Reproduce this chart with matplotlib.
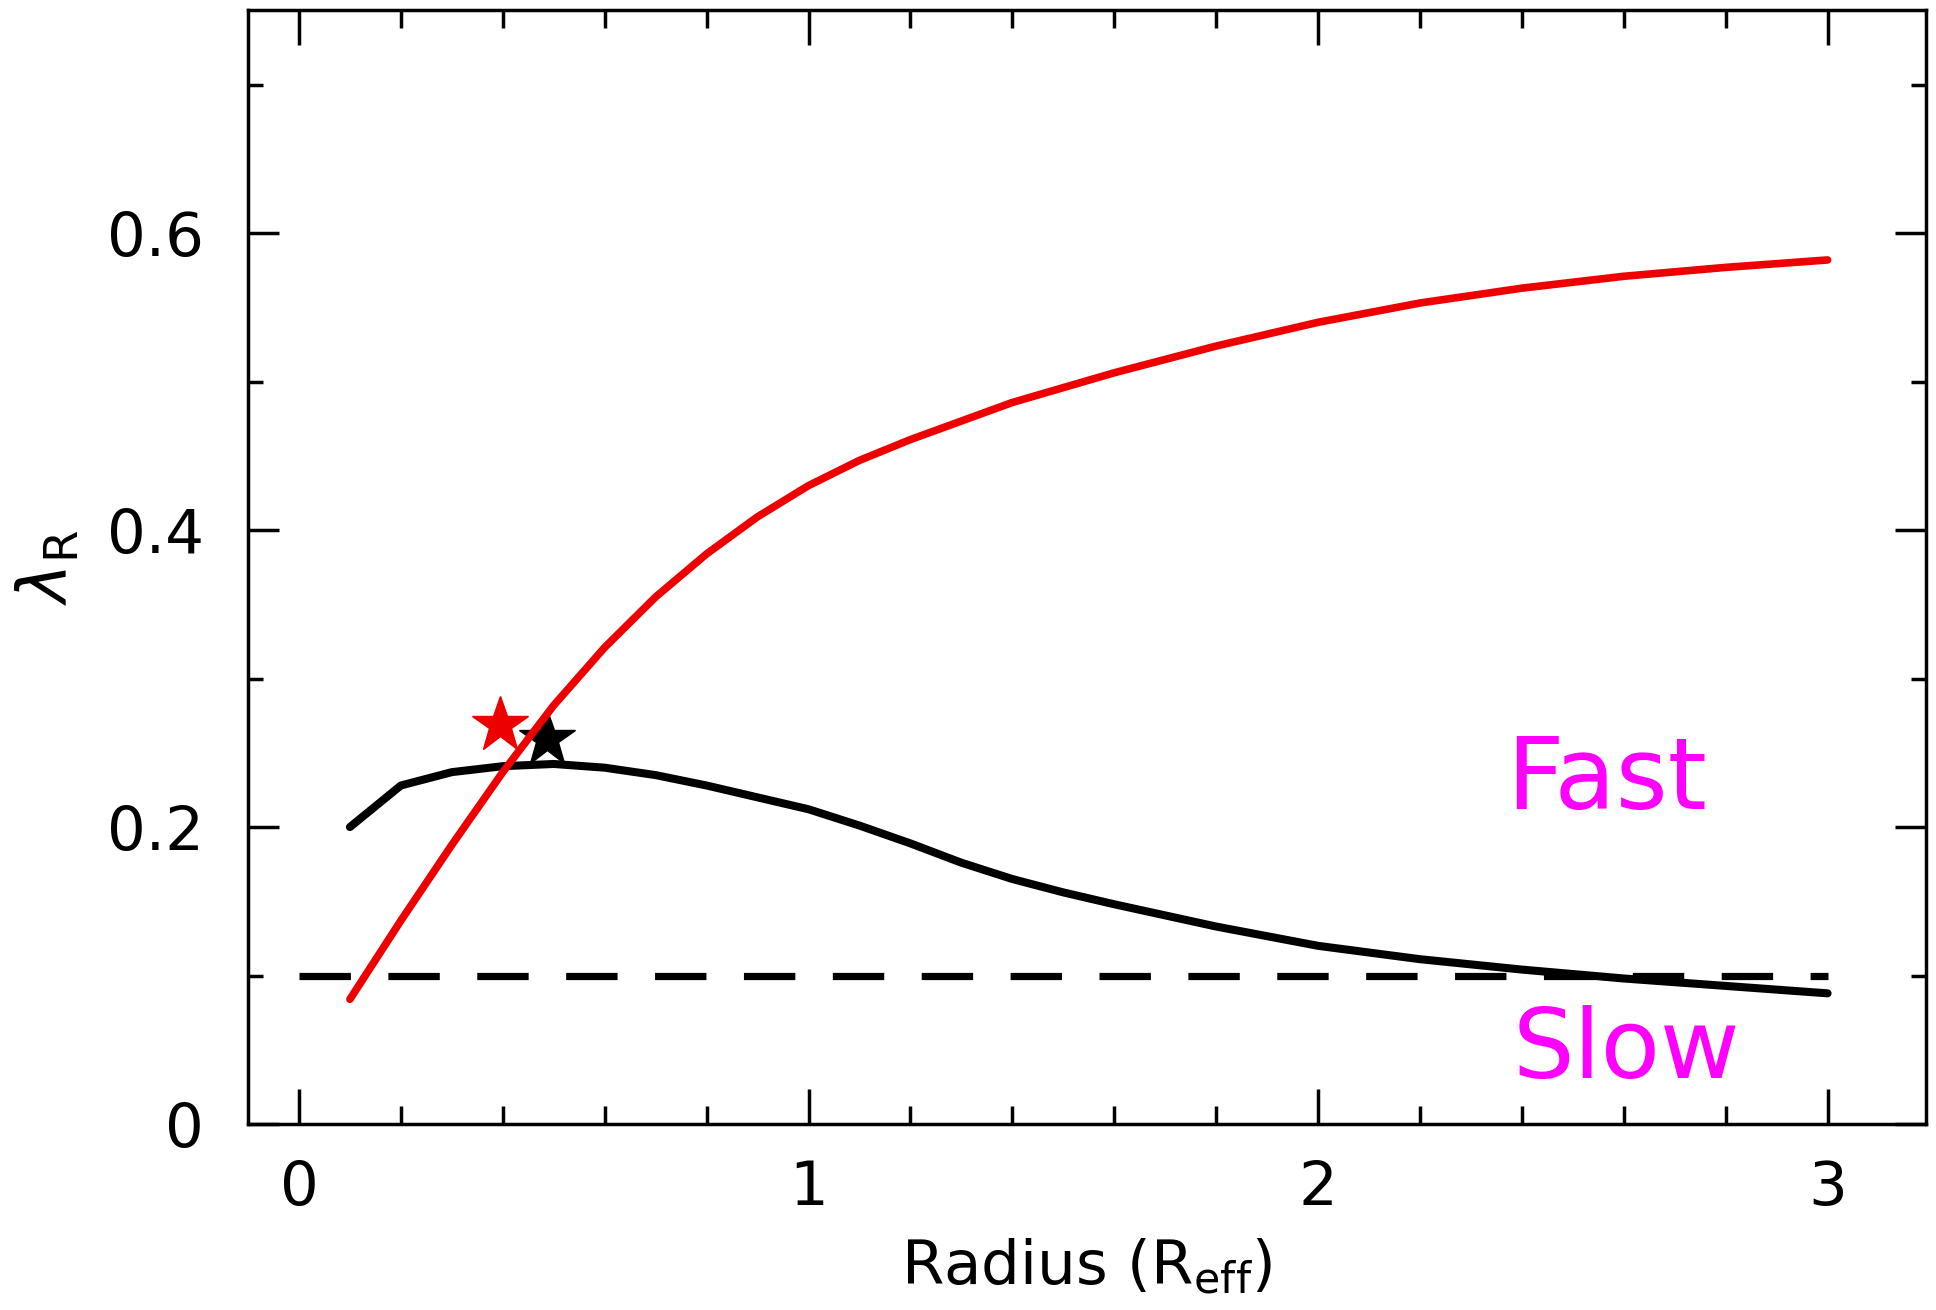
import matplotlib
matplotlib.use("Agg")
import matplotlib.pyplot as plt
from matplotlib.ticker import MultipleLocator

# lambda_R profiles
x_red = [0.1, 0.2, 0.3, 0.4, 0.5, 0.6, 0.7, 0.8, 0.9, 1.0, 1.1, 1.2, 1.4, 1.6,
         1.8, 2.0, 2.2, 2.4, 2.6, 2.8, 3.0]
y_red = [0.084, 0.137, 0.188, 0.237, 0.282, 0.321, 0.355, 0.384, 0.409, 0.430,
         0.447, 0.461, 0.486, 0.506, 0.524, 0.540, 0.553, 0.563, 0.571, 0.577, 0.582]

x_black = [0.1, 0.2, 0.3, 0.4, 0.5, 0.6, 0.7, 0.8, 0.9, 1.0, 1.1, 1.2, 1.3, 1.4,
           1.5, 1.6, 1.8, 2.0, 2.2, 2.4, 2.6, 2.8, 3.0]
y_black = [0.200, 0.228, 0.237, 0.241, 0.2425, 0.240, 0.235, 0.228, 0.220, 0.212,
           0.201, 0.189, 0.176, 0.165, 0.156, 0.148, 0.133, 0.120, 0.111, 0.104,
           0.098, 0.093, 0.088]

# star markers
star_red = (0.3945, 0.2686)
star_black = (0.486, 0.2596)

# fast / slow dividing line
threshold = 0.1
thr_x = [0.0, 3.0]

xticks = [0, 1, 2, 3]
xtick_labels = ['0', '1', '2', '3']
yticks = [0, 0.2, 0.4, 0.6]
ytick_labels = ['0', '0.2', '0.4', '0.6']

plt.rcParams['font.family'] = ['DejaVu Sans']
plt.rcParams['mathtext.fontset'] = 'dejavusans'

fig = plt.figure(figsize=(19.36, 13.10), dpi=100)
ax = fig.add_axes([0.1281, 0.1420, 0.8667, 0.8504])

# stars first so the curves sit on top
ax.plot(*star_red, marker='*', color='#ee0000', markersize=42, linestyle='none', zorder=2)
ax.plot(*star_black, marker='*', color='black', markersize=42, linestyle='none', zorder=2)

ax.plot(x_black, y_black, color='black', linewidth=5.8, solid_capstyle='round',
        solid_joinstyle='round', zorder=3)
ax.plot(x_red, y_red, color='#ee0000', linewidth=5.5, solid_capstyle='round',
        solid_joinstyle='round', zorder=4)

dash, = ax.plot(thr_x, [threshold, threshold], color='black', linewidth=5.2, zorder=3)
dash.set_dashes((37 / 5.2, 27 / 5.2))

ax.text(2.567, 0.212, 'Fast', color='#ff00ff', fontsize=72, ha='center', va='baseline')
ax.text(2.606, 0.031, 'Slow', color='#ff00ff', fontsize=70, ha='center', va='baseline')

ax.set_xlim(-0.1, 3.193)
ax.set_ylim(0, 0.7504)

ax.set_xticks(xticks)
ax.set_xticklabels(xtick_labels)
ax.set_yticks(yticks)
ax.set_yticklabels(ytick_labels)
ax.xaxis.set_minor_locator(MultipleLocator(0.2))
ax.yaxis.set_minor_locator(MultipleLocator(0.1))

ax.tick_params(axis='both', which='both', direction='in', top=True, right=True,
               width=2.5, labelsize=44)
ax.tick_params(axis='x', which='major', length=25, pad=25)
ax.tick_params(axis='x', which='minor', length=13)
ax.tick_params(axis='y', which='major', length=22, pad=32)
ax.tick_params(axis='y', which='minor', length=11)

for s in ax.spines.values():
    s.set_linewidth(2.5)

ax.set_xlabel(r'Radius (R$_{\rm eff}$)', fontsize=44, labelpad=14)
ax.set_ylabel(r'$\lambda_{\rm R}$', fontsize=48, labelpad=18)

fig.savefig('out.png', dpi=100)
